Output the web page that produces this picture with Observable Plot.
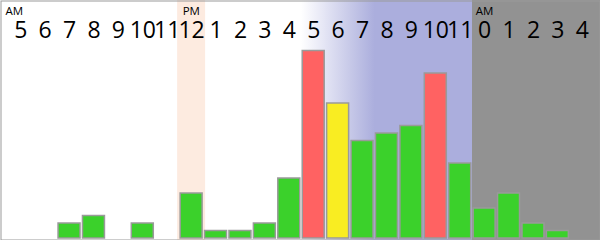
<!DOCTYPE html>
<html>
<head>
<meta charset="utf-8">
<script src="https://cdn.jsdelivr.net/npm/d3@7"></script>
<script src="https://cdn.jsdelivr.net/npm/@observablehq/plot@0.6"></script>
<style>
  body { margin: 0; background: #fff; }
  #chart { width: 600px; height: 240px; }
</style>
</head>
<body>
<div id="chart"></div>
<script>
// Hour-of-day labels (5 AM through 4 AM the next day)
const hourLabels = ["5","6","7","8","9","10","11","12","1","2","3","4","5","6","7","8","9","10","11","0","1","2","3","4"];
// Counts per hour
const counts = [0,0,2,3,0,2,0,6,1,1,2,8,25,18,13,14,15,22,10,4,6,2,1,0];
// Level category per hour (drives bar colour)
const levels = ["normal","normal","normal","normal","normal","normal","normal","normal","normal","normal","normal","normal",
                "peak","high","normal","normal","normal","peak","normal","normal","normal","normal","normal","normal"];
// Period of day per hour (drives background)
const periods = ["day","day","day","day","day","day","day","day","day","day","day","day",
                 "evening","evening","evening","evening","evening","evening","evening",
                 "night","night","night","night","night"];
// Fade-in step of the evening background (0..3), per hour
const fadeSteps = [0,0,0,0,0,0,0,0,0,0,0,0, 1,2,3,4,4,4,4, 0,0,0,0,0];
// Meridiem markers
const markerIndex = [0, 7, 19];
const markerText = ["AM", "PM", "AM"];
// Noon highlight
const noonIndex = 7;

const levelDomain = ["normal", "high", "peak"];
const levelColors = ["#3bd12b", "#f9ed22", "#ff6262"];
const lavender = "#abaedd";
const nightGray = "#929292";

const rows = hourLabels.map((h, i) => ({
  i, hour: h, count: counts[i], level: levels[i], period: periods[i], fade: fadeSteps[i]
}));
const markers = markerIndex.map((i, k) => ({ i, label: markerText[k] }));

const interp = d3.interpolateRgb("#ffffff", lavender);

// defs for per-cell gradient pieces
const defs = () => {
  const d = d3.create("svg:defs");
  for (let s = 1; s <= 3; s++) {
    const g = d.append("linearGradient").attr("id", "fade-" + s).attr("x1", "0").attr("x2", "1").attr("y1", "0").attr("y2", "0");
    g.append("stop").attr("offset", "0").attr("stop-color", interp((s - 1) / 3));
    g.append("stop").attr("offset", "1").attr("stop-color", interp(s / 3));
  }
  return d.node();
};

const chart = Plot.plot({
  width: 600,
  height: 240,
  marginTop: 0, marginRight: 0, marginBottom: 0, marginLeft: 0,
  style: { fontFamily: "'Open Sans', sans-serif", background: "#fff" },
  x: { type: "band", domain: d3.range(24), range: [8, 594], paddingInner: 0.1, paddingOuter: 0.05, round: false, axis: null },
  y: { domain: [0, 25], range: [238, 50.5], axis: null },
  color: { domain: levelDomain, range: levelColors },
  marks: [
    defs,
    Plot.cell(rows.filter(d => d.i === noonIndex), { x: "i", fill: "#fdebe0", insetLeft: -3, insetRight: -3 }),
    Plot.cell(rows.filter(d => d.period === "evening"), {
      x: "i", fill: d => d.fade >= 4 ? lavender : `url(#fade-${d.fade})`, insetLeft: -1.3, insetRight: -1.6,
      shapeRendering: "crispEdges"
    }),
    Plot.cell(rows.filter(d => d.period === "night"), { x: "i", fill: nightGray, insetLeft: -1.6, insetRight: -7, shapeRendering: "crispEdges" }),
    Plot.barY(rows.filter(d => d.count > 0), { x: "i", y: "count", fill: "level", stroke: "#9a9a9a", strokeWidth: 1.5 }),
    Plot.text(rows, { x: "i", text: "hour", frameAnchor: "top", lineAnchor: "middle", dy: 30, fontSize: 23, fill: "#000" }),
    Plot.text(markers.filter(d => d.i === 0), { text: "label", frameAnchor: "top-left", lineAnchor: "middle", dx: 5, dy: 10.5, textAnchor: "start", fontSize: 11.5, fill: "#000" }),
    Plot.text(markers.filter(d => d.i !== 0), { x: "i", text: "label", frameAnchor: "top", lineAnchor: "middle", dx: -9, dy: 10.5, textAnchor: "start", fontSize: 11.5, fill: "#000" }),
    Plot.frame({ stroke: "#9a9a9a", inset: 0.5 })
  ]
});
document.getElementById("chart").append(chart);
</script>
</body>
</html>
